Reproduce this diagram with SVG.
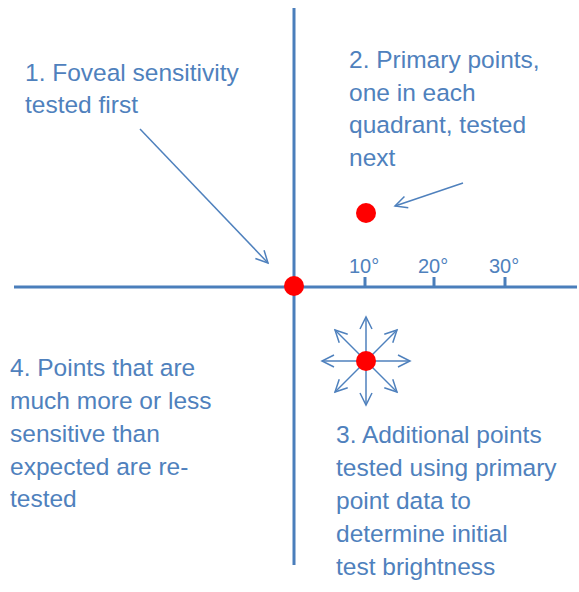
<svg xmlns="http://www.w3.org/2000/svg" width="579" height="592" viewBox="0 0 579 592">
<style>
.t{font-family:"Liberation Sans",Arial,sans-serif;font-size:24.5px;fill:#4F81BD}
.d{font-family:"Liberation Sans",Arial,sans-serif;font-size:20px;fill:#4F81BD}
.ax{stroke:#4A7EBB;stroke-width:3;fill:none}
.ar{stroke:#4F81BD;stroke-width:1.5;fill:none;marker-end:url(#h)}
.pt{fill:#FF0000}
</style>
<defs>
<marker id="h" markerUnits="userSpaceOnUse" markerWidth="16" markerHeight="16" viewBox="0 0 16 16" refX="14" refY="8" orient="auto">
<path d="M2,2 L14,8 L2,14" fill="none" stroke="#4F81BD" stroke-width="1.5"/>
</marker>
</defs>
<rect width="579" height="592" fill="#fff"/>
<g id="axes">
<line class="ax" x1="294" y1="8" x2="294" y2="565"/>
<line class="ax" x1="14" y1="287" x2="577" y2="287"/>
<line class="ax" x1="365" y1="277" x2="365" y2="287"/>
<line class="ax" x1="434" y1="277" x2="434" y2="287"/>
<line class="ax" x1="505" y1="277" x2="505" y2="287"/>
<text class="d" x="349" y="273">10°</text>
<text class="d" x="418" y="273">20°</text>
<text class="d" x="489" y="273">30°</text>
</g>
<g id="connectors">
<line class="ar" x1="140" y1="129" x2="268" y2="263"/>
<line class="ar" x1="463" y1="183" x2="395" y2="206"/>
<line class="ar" x1="366" y1="361" x2="366" y2="317"/>
<line class="ar" x1="366" y1="361" x2="366" y2="405"/>
<line class="ar" x1="366" y1="361" x2="322" y2="361"/>
<line class="ar" x1="366" y1="361" x2="410" y2="361"/>
<line class="ar" x1="366" y1="361" x2="335" y2="330"/>
<line class="ar" x1="366" y1="361" x2="397" y2="330"/>
<line class="ar" x1="366" y1="361" x2="335" y2="392"/>
<line class="ar" x1="366" y1="361" x2="397" y2="392"/>
</g>
<g id="fovea"><circle class="pt" cx="294" cy="286" r="10"/></g>
<g id="primary"><circle class="pt" cx="366" cy="213" r="10"/></g>
<g id="additional"><circle class="pt" cx="366" cy="361" r="10"/></g>
<g id="label1">
<text class="t" x="25" y="81">1. Foveal sensitivity</text>
<text class="t" x="25" y="113">tested first</text>
</g>
<g id="label2">
<text class="t" x="349" y="68">2. Primary points,</text>
<text class="t" x="349" y="101">one in each</text>
<text class="t" x="349" y="133">quadrant, tested</text>
<text class="t" x="349" y="166">next</text>
</g>
<g id="label3">
<text class="t" x="336" y="443">3. Additional points</text>
<text class="t" x="336" y="476">tested using primary</text>
<text class="t" x="336" y="509">point data to</text>
<text class="t" x="336" y="542">determine initial</text>
<text class="t" x="336" y="575">test brightness</text>
</g>
<g id="label4">
<text class="t" x="10" y="376">4. Points that are</text>
<text class="t" x="10" y="409">much more or less</text>
<text class="t" x="10" y="442">sensitive than</text>
<text class="t" x="10" y="475">expected are re-</text>
<text class="t" x="10" y="507">tested</text>
</g>
</svg>
